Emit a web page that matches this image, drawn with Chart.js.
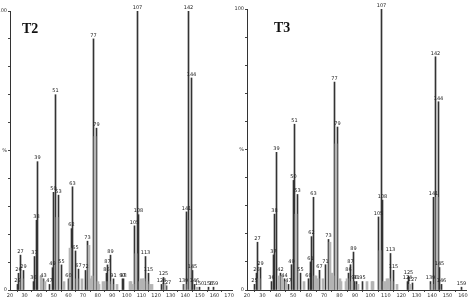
<!DOCTYPE html>
<html><head><meta charset="utf-8">
<script src="https://cdn.jsdelivr.net/npm/chart.js@4"></script>
<style>
body{margin:0;background:#fff;width:470px;height:303px;overflow:hidden;position:relative}
.p{position:absolute;top:0;height:303px}
#w1{left:0;width:235px}
#w2{left:235px;width:235px}
.t{position:absolute;font:bold 14px "Liberation Serif",serif;color:#111;line-height:14px}
</style></head><body>
<div class="p" id="w1"><canvas id="c1"></canvas></div>
<div class="p" id="w2"><canvas id="c2"></canvas></div>
<div class="t" style="left:22px;top:22px">T2</div>
<div class="t" style="left:274px;top:21px">T3</div>
<script>
// ---- T2 spectrum (labelled peaks) ----
const t2Mz  = [25,26,27,29,36,37,38,39,43,47,49,50,51,53,55,60,62,63,65,67,72,73,77,79,86,87,89,91,97,98,105,107,108,113,115,124,125,127,139,141,142,144,145,146,150,156,159];
const t2Int = [2,6,12.5,7,3,12,25,46,4,2,8,35,70,34,9,4,22,37,14,7.5,7,17.5,90,58,6,9,12.5,4,4,4,23,100,27,12,6,2,4.5,1.5,2,28,100,76,7,2,1,1,1];
// ---- T2 unlabelled / minor peaks ----
const t2MinorMz  = [28,41,42,44,52,57,61,66,69,74,75,76,78,80,81,84,85,88,90,93,102,103,104,106,109,110,111,112,114,116,117,126,140,143,148];
const t2MinorInt = [4,5,4,3,26,3,15,4,4,16,4,5,55,3,2,3,3,3,2,2,3,3,2,13,3,4,4,4,3,2,2,2,2,25,1];
// ---- T3 spectrum (labelled peaks) ----
const t3Mz  = [25,26,27,29,36,37,38,39,42,44,47,49,50,51,53,55,60,61,62,63,67,71,73,77,79,86,87,89,90,91,95,105,107,108,113,115,124,125,127,139,141,142,144,145,146,159];
const t3Int = [2,6,17,8,3,12.5,27,49,6,4,2,9,39,59,34,6,4,10,19,33,7,9,18,74,58,6,9,13.5,3,3,3,26,100,32,13,7,3,5,2.5,3,33,83,67,8,2,1];
// ---- T3 unlabelled / minor peaks ----
const t3MinorMz  = [28,41,43,45,52,57,64,65,66,69,74,75,76,78,80,81,84,85,88,92,98,101,102,106,109,110,111,112,114,117,126,140,143];
const t3MinorInt = [4,5,5,3,27,3,5,5,4,4,17,6,5,52,4,3,3,4,3,2,3,3,3,14,3,3,4,4,3,2,2,2,33];
// ---- axis tick labels ----
const t2XTicks = [20,30,40,50,60,70,80,90,100,110,120,130,140,150,160,170];
const t3XTicks = [20,30,40,50,60,70,80,90,100,110,120,130,140,150,160];
const yTickLabels = {0:'0', 50:'%', 100:'100'};

const snapBars = {
  id:'snapBars',
  beforeDatasetsDraw(chart){
    chart.data.datasets.forEach((d,di)=>{
      chart.getDatasetMeta(di).data.forEach(el=>{
        const w = el.width || 1;
        el.x = (w % 2 === 1) ? Math.floor(el.x) + 0.5 : Math.round(el.x);
      });
    });
  }
};
const peakLabels = {
  id:'peakLabels',
  afterDatasetsDraw(chart){
    const ctx = chart.ctx, meta = chart.getDatasetMeta(1), ds = chart.data.datasets[1].data;
    ctx.save();
    ctx.font = '5px "DejaVu Sans"';
    ctx.fillStyle = '#222';
    ctx.textAlign = 'center';
    ctx.textBaseline = 'bottom';
    meta.data.forEach((el,i)=>{ ctx.fillText(String(ds[i].x), el.x, el.y - 1); });
    ctx.restore();
  }
};

function makePanel(id, mz, ints, minorMz, minorInt, xTicks, xMax, yW, padTop, padRight){
  const toPts = (a,b)=>a.map((x,i)=>({x:x,y:b[i]}));
  return new Chart(document.getElementById(id), {
    type:'bar',
    data:{datasets:[
      {data:toPts(minorMz,minorInt), backgroundColor:'#b4b4b4', barThickness:2, grouped:false},
      {data:toPts(mz,ints), backgroundColor:'#333', barThickness:1, grouped:false}
    ]},
    options:{
      responsive:true, maintainAspectRatio:false, animation:false,
      layout:{padding:{top:padTop,right:padRight,left:0,bottom:0}},
      plugins:{legend:{display:false}, tooltip:{enabled:false}},
      scales:{
        x:{type:'linear', min:20, max:xMax, offset:false,
           afterBuildTicks(s){ s.ticks = xTicks.map(v=>({value:v})); },
           ticks:{autoSkip:false, maxRotation:0, padding:1, color:'#333', font:{size:5, family:'DejaVu Sans'},
                  callback:(v)=> String(v)},
           grid:{drawOnChartArea:false, tickLength:2, color:'#444'},
           border:{color:'#333', width:1},
           afterFit(s){ s.height = 13; }},
        y:{min:0, max:100,
           ticks:{stepSize:10, padding:1, color:'#333', font:{size:5, family:'DejaVu Sans'},
                  callback:(v)=> (v in yTickLabels) ? yTickLabels[v] : ''},
           grid:{drawOnChartArea:false, tickLength:2, color:'#444'},
           border:{color:'#333', width:1},
           afterFit(s){ s.width = yW; }}
      }
    },
    plugins:[snapBars, peakLabels]
  });
}
makePanel('c1', t2Mz, t2Int, t2MinorMz, t2MinorInt, t2XTicks, 172, 10, 11, 3);
makePanel('c2', t3Mz, t3Int, t3MinorMz, t3MinorInt, t3XTicks, 162, 12, 9, 4);
</script>
</body></html>
